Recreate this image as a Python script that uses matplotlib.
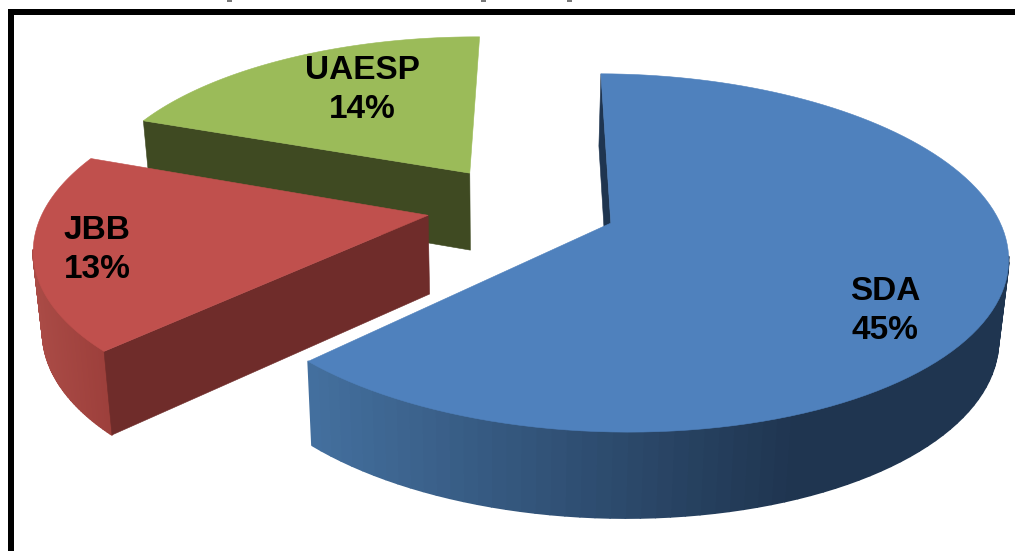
import numpy as np
import matplotlib
matplotlib.use("Agg")
import matplotlib.pyplot as plt
from matplotlib.collections import PolyCollection
from matplotlib.patches import Polygon, Rectangle

labels = ["SDA", "JBB", "UAESP"]
valeurs = [45, 13, 14]

couleurs = ["#4f81bd", "#c0504d", "#9bbb59"]
murs = ["#1f3550", "#6f2c2a", "#3f4a22"]
# degrade du bord : x gauche, couleur gauche, x droite, couleur droite
bords = [(310, "#44709f", 800, "#1f3550"),
         (33, "#aa4b46", 114, "#9b3e3a")]
pos_labels = [(885, 311), (97, 250), (362, 90)]

parts = np.array(valeurs) / sum(valeurs) * 360

# perspective du disque (valeurs ajustees sur l'image)
cx, cy, A, B, k = 521.9, 206.5, 168.7, 383.3, 0.164
rot, eclat = 0.48, 0.248


def haut(u, v):
    w = 1 + k * v
    return np.column_stack([cx + B * u / w, cy - A * v / w])


def bas(u, v):
    pts = haut(u, v)
    pts[:, 0] = 500 + (pts[:, 0] - 500) * 0.98
    pts[:, 1] = pts[:, 1] + 78.4 - 6.9 * v
    return pts


def hexa(c):
    return np.array(matplotlib.colors.to_rgb(c))


fig = plt.figure(figsize=(10.15, 5.51), dpi=100)
ax = fig.add_axes([0, 0, 1, 1])
ax.set_xlim(0, 1015)
ax.set_ylim(551, 0)
ax.axis("off")

# de l'arriere vers l'avant
for i in [2, 1, 0]:
    debut = rot + parts[:i].sum()
    fin = debut + parts[i]
    mil = np.radians((debut + fin) / 2)
    t = np.radians(np.linspace(debut, fin, 120))
    ou = np.array([eclat * np.sin(mil)])
    ov = np.array([eclat * np.cos(mil)])
    u = ou + np.sin(t)
    v = ov + np.cos(t)
    apex_h = haut(ou, ov)
    apex_b = bas(ou, ov)
    rim_h = haut(u, v)
    rim_b = bas(u, v)

    # bord arrondi, seulement devant (celui du vert est cache)
    if i < len(bords):
        x0, c0, x1, c1 = bords[i]
        quads = []
        cols = []
        for j in range(len(t) - 1):
            if v[j] > -0.25:
                continue
            quads.append([rim_h[j], rim_h[j + 1], rim_b[j + 1], rim_b[j]])
            f = np.clip((rim_h[j, 0] - x0) / (x1 - x0), 0, 1)
            cols.append(hexa(c0) * (1 - f) + hexa(c1) * f)
        ax.add_collection(PolyCollection(quads, facecolors=cols, edgecolors=cols, linewidths=1.2))

    # face coupee
    ax.add_patch(Polygon(np.vstack([rim_h[0], apex_h, apex_b, rim_b[0]]), facecolor=murs[i], edgecolor=murs[i], linewidth=0.4))
    # dessus
    ax.add_patch(Polygon(np.vstack([apex_h, rim_h]), facecolor=couleurs[i], edgecolor=couleurs[i], linewidth=0.4))

for i in range(len(labels)):
    ax.text(pos_labels[i][0], pos_labels[i][1], "%s\n%d%%" % (labels[i], valeurs[i]),
            ha="center", va="center", fontsize=24, fontweight="bold",
            family="Liberation Sans", color="black", linespacing=1.3, zorder=5)

# cadre noir, coupe a droite et en bas
ax.add_patch(Rectangle((8, 9), 1007, 6, color="black", lw=0, zorder=6))
ax.add_patch(Rectangle((8, 9), 6, 542, color="black", lw=0, zorder=6))

# bas du titre coupe en haut de l'image
for x in [227, 481, 567]:
    ax.add_patch(Rectangle((x, 0), 5, 2, color="#777777", lw=0, zorder=6))

fig.savefig("out.png", dpi=100)
